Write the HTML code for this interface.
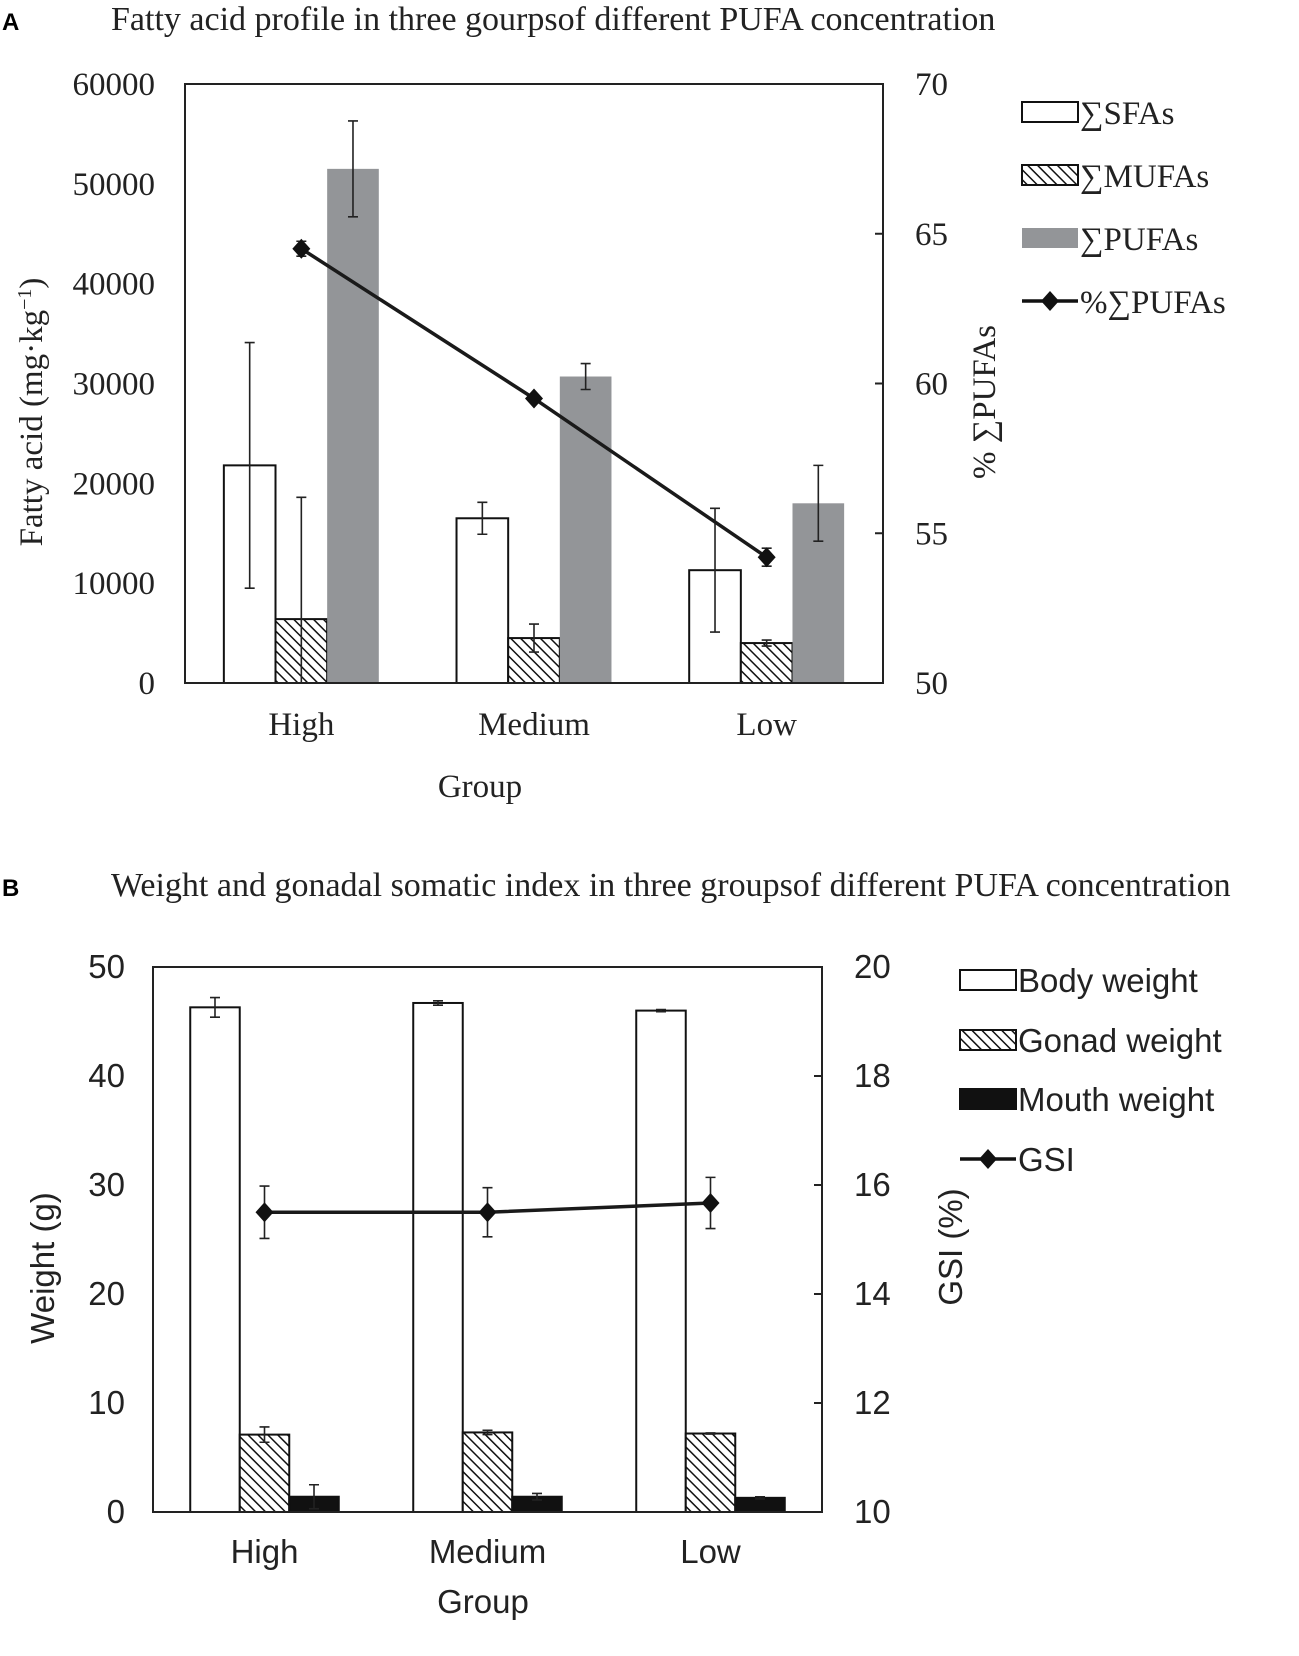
<!DOCTYPE html>
<html><head><meta charset="utf-8"><style>
html,body{margin:0;padding:0;background:#fff;}
svg{display:block;}
</style></head><body>
<svg id="c" width="1299" height="1656" xmlns="http://www.w3.org/2000/svg">
<defs>
<pattern id="hatch" patternUnits="userSpaceOnUse" width="7" height="7" patternTransform="rotate(-45)">
<rect width="7" height="7" fill="#fff"/><line x1="0" y1="0" x2="0" y2="7" stroke="#111" stroke-width="3"/>
</pattern>
</defs>
</svg>
<script>
const categories=["High","Medium","Low"];
const sfaVals=[21800,16500,11300];
const sfaErr=[12300,1600,6200];
const mufaVals=[6400,4500,4000];
const mufaErr=[12200,1400,300];
const pufaVals=[51500,30700,18000];
const pufaErr=[4800,1300,3800];
const pctPufa=[64.5,59.5,54.2];
const pctErr=[0.25,0.1,0.3];
const aLeftTicks=[0,10000,20000,30000,40000,50000,60000];
const aRightTicks=[50,55,60,65,70];

const bodyVals=[46.3,46.7,46.0];
const bodyErr=[0.9,0.2,0.1];
const gonadVals=[7.1,7.3,7.2];
const gonadErr=[0.7,0.2,0.05];
const mouthVals=[1.4,1.4,1.3];
const mouthErr=[1.1,0.3,0.1];
const gsiVals=[15.5,15.5,15.67];
const gsiErr=[0.48,0.45,0.47];
const bLeftTicks=[0,10,20,30,40,50];
const bRightTicks=[10,12,14,16,18,20];

const svg=document.getElementById('c');
const NS="http://www.w3.org/2000/svg";
function el(tag,attrs,parent,text){const e=document.createElementNS(NS,tag);for(const k in attrs)e.setAttribute(k,attrs[k]);if(text!==undefined)e.textContent=text;(parent||svg).appendChild(e);return e;}

function panel(cfg){
  const g=el('g',{});
  
  
  const {L,R,T,B,font}=cfg;
  const yL=v=>B-(v-cfg.lMin)/(cfg.lMax-cfg.lMin)*(B-T);
  const yR=v=>B-(v-cfg.rMin)/(cfg.rMax-cfg.rMin)*(B-T);
  const cw=(R-L)/categories.length;
  const xc=i=>L+cw*(i+0.5);
  const bw=cw*0.222;
  let t=el('text',{x:cfg.letterX,y:cfg.titleY,'font-family':'Liberation Sans, sans-serif','font-weight':'bold','font-size':24,fill:'#000'},g,cfg.letter);
  
  t=el('text',{x:cfg.titleX,y:cfg.titleY,'font-family':'Liberation Serif, serif','font-size':34,fill:'#222'},g,cfg.title);
  
  cfg.series.forEach((s,si)=>{
    s.vals.forEach((v,i)=>{
      const x=xc(i)+(si-1)*bw-bw/2;
      const r=el('rect',{x:x,y:yL(v),width:bw,height:B-yL(v),fill:s.fill,stroke:s.stroke,'stroke-width':s.stroke==='none'?0:2},g);
      
      
      const cx=x+bw/2, hi=yL(v+s.err[i]), lo=yL(Math.max(0,v-s.err[i]));
      const eb=el('path',{d:`M${cx},${hi}V${lo}M${cx-5},${hi}H${cx+5}M${cx-5},${lo}H${cx+5}`,stroke:'#222','stroke-width':1.6,fill:'none'},g);
      
      
    });
  });
  const fr=el('rect',{x:L,y:T,width:R-L,height:B-T,fill:'none',stroke:'#222','stroke-width':2},g);
  
  const pts=cfg.line.vals.map((v,i)=>[xc(i),yR(v)]);
  const pl=el('polyline',{points:pts.map(p=>p.join(',')).join(' '),fill:'none',stroke:'#1a1a1a','stroke-width':3.5},g);
  
  cfg.line.vals.forEach((v,i)=>{
    const cx=xc(i),hi=yR(v+cfg.line.err[i]),lo=yR(v-cfg.line.err[i]);
    const eb=el('path',{d:`M${cx},${hi}V${lo}M${cx-5},${hi}H${cx+5}M${cx-5},${lo}H${cx+5}`,stroke:'#222','stroke-width':1.6,fill:'none'},g);
    
    const cy=yR(v);
    const m=el('path',{d:`M${cx},${cy-10}L${cx+9},${cy}L${cx},${cy+10}L${cx-9},${cy}Z`,fill:'#111'},g);
    
  });
  cfg.lTicks.forEach(v=>{
    const y=yL(v);
    const tx=el('text',{x:L-cfg.lPad,y:y+11,'text-anchor':'end','font-family':font,'font-size':cfg.fs,fill:'#222'},g,String(v));
    
  });
  cfg.rTicks.forEach(v=>{
    const y=yR(v);
    el('line',{x1:R-8,x2:R,y1:y,y2:y,stroke:'#222','stroke-width':2},g);
    const tx=el('text',{x:R+cfg.rPad,y:y+11,'font-family':font,'font-size':cfg.fs,fill:'#222'},g,String(v));
    
  });
  categories.forEach((c,i)=>{
    const tx=el('text',{x:xc(i),y:cfg.catY,'text-anchor':'middle','font-family':font,'font-size':cfg.fs,fill:'#222'},g,c);
    
  });
  t=el('text',{x:cfg.xTitle[0],y:cfg.xTitle[1],'text-anchor':'middle','font-family':font,'font-size':cfg.fs,fill:'#222'},g,'Group');
  
  t=el('text',{x:0,y:0,'text-anchor':'middle','font-family':font,'font-size':cfg.fs,fill:'#222',transform:`translate(${cfg.yTitleL[0]},${cfg.yTitleL[1]}) rotate(-90)`},g);
  t.innerHTML=cfg.yTitleLText;
  
  t=el('text',{x:0,y:0,'text-anchor':'middle','font-family':font,'font-size':cfg.fs,fill:'#222',transform:`translate(${cfg.yTitleR[0]},${cfg.yTitleR[1]}) rotate(-90)`},g,cfg.yTitleRText);
  
  cfg.series.forEach((s,si)=>{
    const y=cfg.legY[si];
    const r=el('rect',{x:cfg.legX,y:y-22,width:56,height:20,fill:s.fill,stroke:s.stroke==='none'?'none':'#111','stroke-width':2},g);
    
    const tx=el('text',{x:cfg.legX+58,y:y,'font-family':font,'font-size':cfg.fs,fill:'#222'},g,s.label);
    
  });
  const y=cfg.legY[3];
  el('line',{x1:cfg.legX,x2:cfg.legX+56,y1:y-12,y2:y-12,stroke:'#111','stroke-width':3.5},g);
  el('path',{d:`M${cfg.legX+28},${y-22}L${cfg.legX+37},${y-12}L${cfg.legX+28},${y-2}L${cfg.legX+19},${y-12}Z`,fill:'#111'},g);
  const tx=el('text',{x:cfg.legX+58,y:y,'font-family':font,'font-size':cfg.fs,fill:'#222'},g,cfg.line.label);
  
}

panel({name:'chart-a',letter:'A',letterX:2,titleX:111,titleY:30,title:'Fatty acid profile in three gourpsof different PUFA concentration',
  L:185,R:883,T:84,B:683,font:'Liberation Serif, serif',fs:33,lPad:30,rPad:32,
  lMin:0,lMax:60000,rMin:50,rMax:70,lTicks:aLeftTicks,rTicks:aRightTicks,catY:735,xTitle:[480,797],
  yTitleL:[42,412],yTitleLText:'Fatty acid (mg·kg<tspan dy="-11" font-size="20">−1</tspan><tspan dy="11">)</tspan>',
  yTitleR:[995,402],yTitleRText:'% ∑PUFAs',
  series:[{key:'sfa',label:'∑SFAs',vals:sfaVals,err:sfaErr,fill:'#fff',stroke:'#111'},
          {key:'mufa',label:'∑MUFAs',vals:mufaVals,err:mufaErr,fill:'url(#hatch)',stroke:'#111'},
          {key:'pufa',label:'∑PUFAs',vals:pufaVals,err:pufaErr,fill:'#939598',stroke:'none'}],
  line:{key:'pct-pufa',label:'%∑PUFAs',vals:pctPufa,err:pctErr},
  legX:1022,legY:[124,187,250,313]
});

panel({name:'chart-b',letter:'B',letterX:2,titleX:111,titleY:896,title:'Weight and gonadal somatic index in three groupsof different PUFA concentration',
  L:153,R:822,T:967,B:1512,font:'Liberation Sans, sans-serif',fs:33,lPad:28,rPad:32,
  lMin:0,lMax:50,rMin:10,rMax:20,lTicks:bLeftTicks,rTicks:bRightTicks,catY:1563,xTitle:[483,1613],
  yTitleL:[54,1268],yTitleLText:'Weight (g)',
  yTitleR:[962,1247],yTitleRText:'GSI (%)',
  series:[{key:'body',label:'Body weight',vals:bodyVals,err:bodyErr,fill:'#fff',stroke:'#111'},
          {key:'gonad',label:'Gonad weight',vals:gonadVals,err:gonadErr,fill:'url(#hatch)',stroke:'#111'},
          {key:'mouth',label:'Mouth weight',vals:mouthVals,err:mouthErr,fill:'#111',stroke:'#111'}],
  line:{key:'gsi',label:'GSI',vals:gsiVals,err:gsiErr},
  legX:960,legY:[992,1052,1111,1171]
});
</script>
</body></html>
